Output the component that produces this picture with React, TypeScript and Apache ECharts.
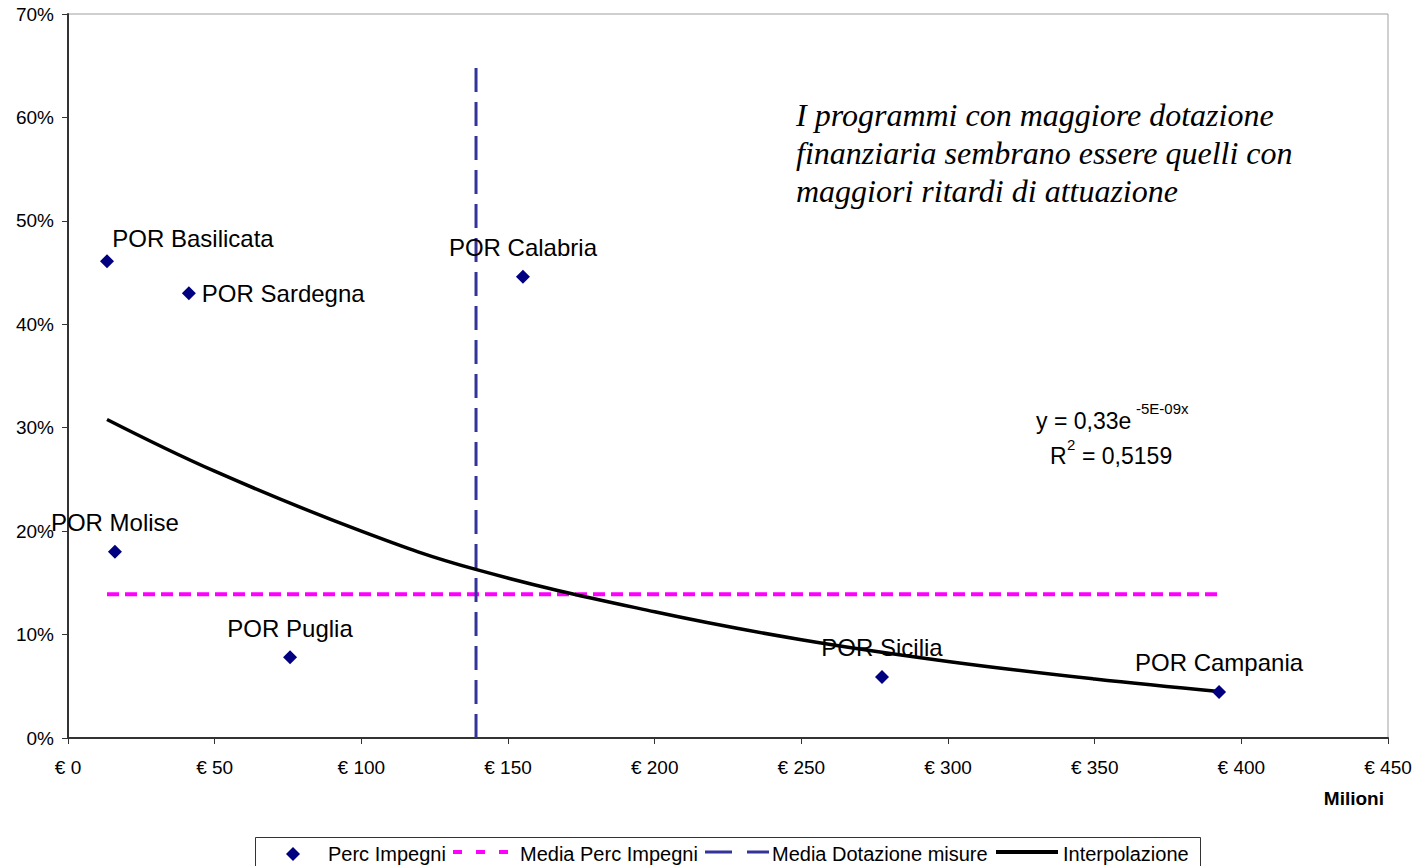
import React, { useEffect, useRef } from "react";
import * as echarts from "echarts";

const pointNames = ["POR Basilicata", "POR Sardegna", "POR Calabria", "POR Molise", "POR Puglia", "POR Sicilia", "POR Campania"];
const pointX = [13.3, 41.2, 155.1, 16.0, 75.7, 277.5, 392.4]; // milioni di euro
const pointY = [46.1, 43.0, 44.6, 18.0, 7.8, 5.9, 4.45]; // %

const mediaPercX = [13.3, 392.4];
const mediaPercY = 13.9;

const mediaDotX = 139.1;
const mediaDotY = [0, 65.3];

const trendX = [13.3, 50, 100, 139, 200, 250, 300, 350, 392.4];
const trendY = [30.8, 25.8, 20.0, 16.3, 12.2, 9.5, 7.4, 5.7, 4.5];

const xTicks = { min: 0, max: 450, interval: 50 };
const yTicks = { min: 0, max: 70, interval: 10 };

const legendNames = ["Perc Impegni", "Media Perc Impegni", "Media Dotazione misure", "Interpolazione"];

const labelLayouts: Record<string, any> = {
  "POR Basilicata": { position: "top", distance: 12, offset: [86, 8] },
  "POR Sardegna": { position: "right", distance: 6 },
  "POR Calabria": { position: "top", distance: 10 },
  "POR Molise": { position: "top", distance: 10 },
  "POR Puglia": { position: "top", distance: 10 },
  "POR Sicilia": { position: "top", distance: 10 },
  "POR Campania": { position: "top", distance: 10 },
};

export default function App() {
  const ref = useRef<HTMLDivElement>(null);
  useEffect(() => {
    if (!ref.current) return;
    const chart = echarts.init(ref.current, undefined, { renderer: "svg" });
    const font = "Arial, 'Liberation Sans', sans-serif";
    const lf = "20px Arial, 'Liberation Sans', sans-serif";
    const ly = 854;
    const legendGraphic: any = {
      type: "group",
      children: [
        { type: "rect", shape: { x: 255.5, y: 837.5, width: 945, height: 40 }, style: { fill: "#fff", stroke: "#333", lineWidth: 1 } },
        { type: "polygon", shape: { points: [[293, ly - 7], [300, ly], [293, ly + 7], [286, ly]] }, style: { fill: "#000080" } },
        { type: "text", x: 328, y: ly, style: { text: legendNames[0], font: lf, fill: "#000", textVerticalAlign: "middle" } },
        { type: "line", shape: { x1: 453, y1: ly - 2, x2: 508, y2: ly - 2 }, style: { stroke: "#ff00ff", lineWidth: 4, lineDash: [9, 14] } },
        { type: "text", x: 520, y: ly, style: { text: legendNames[1], font: lf, fill: "#000", textVerticalAlign: "middle" } },
        { type: "line", shape: { x1: 705, y1: ly - 2, x2: 769, y2: ly - 2 }, style: { stroke: "#333399", lineWidth: 3, lineDash: [27, 15] } },
        { type: "text", x: 772, y: ly, style: { text: legendNames[2], font: lf, fill: "#000", textVerticalAlign: "middle" } },
        { type: "line", shape: { x1: 996, y1: ly - 2, x2: 1058, y2: ly - 2 }, style: { stroke: "#000", lineWidth: 4 } },
        { type: "text", x: 1063, y: ly, style: { text: legendNames[3], font: lf, fill: "#000", textVerticalAlign: "middle" } },
      ],
    };
    const option: any = {
      animation: false,
      backgroundColor: "#ffffff",
      textStyle: { fontFamily: font },
      grid: {
        left: 68,
        right: 28,
        top: 14,
        bottom: 128,
        show: true,
        borderColor: "#a0a0a0",
        borderWidth: 1,
      },
      xAxis: {
        type: "value",
        min: xTicks.min,
        max: xTicks.max,
        interval: xTicks.interval,
        splitLine: { show: false },
        axisLine: { show: true, onZero: false, lineStyle: { color: "#333", width: 2 } },
        axisTick: { show: true, length: 6, lineStyle: { color: "#333" } },
        axisLabel: {
          margin: 20,
          fontSize: 19,
          color: "#000",
          fontFamily: font,
          formatter: (v: number) => "€ " + v,
        },
      },
      yAxis: {
        type: "value",
        min: yTicks.min,
        max: yTicks.max,
        interval: yTicks.interval,
        splitLine: { show: false },
        axisLine: { show: true, onZero: false, lineStyle: { color: "#333", width: 2 } },
        axisTick: { show: true, length: 6, lineStyle: { color: "#333" } },
        axisLabel: {
          margin: 14,
          fontSize: 19,
          color: "#000",
          fontFamily: font,
          formatter: "{value}%",
        },
      },
      legend: { show: false, data: legendNames },
      graphic: [
        {
          type: "text",
          left: 796,
          top: 96,
          style: {
            text: "I programmi con maggiore dotazione\nfinanziaria sembrano essere quelli con\nmaggiori ritardi di attuazione",
            font: "italic 32px 'Liberation Serif', 'Times New Roman', serif",
            lineHeight: 38,
            fill: "#000",
          },
        },
        {
          type: "text",
          x: 1036,
          y: 409,
          style: { text: "y = 0,33e", font: "23px Arial, 'Liberation Sans', sans-serif", fill: "#000" },
        },
        {
          type: "text",
          x: 1136,
          y: 401,
          style: { text: "-5E-09x", font: "15px Arial, 'Liberation Sans', sans-serif", fill: "#000" },
        },
        {
          type: "text",
          x: 1050,
          y: 444,
          style: { text: "R", font: "23px Arial, 'Liberation Sans', sans-serif", fill: "#000" },
        },
        {
          type: "text",
          x: 1067,
          y: 437,
          style: { text: "2", font: "15px Arial, 'Liberation Sans', sans-serif", fill: "#000" },
        },
        {
          type: "text",
          x: 1082,
          y: 444,
          style: { text: "= 0,5159", font: "23px Arial, 'Liberation Sans', sans-serif", fill: "#000" },
        },
        {
          type: "text",
          right: 32,
          top: 789,
          style: { text: "Milioni", font: "bold 19px Arial, 'Liberation Sans', sans-serif", fill: "#000" },
        },
        legendGraphic,
      ],
      series: [
        {
          name: "Perc Impegni",
          type: "scatter",
          symbol: "diamond",
          symbolSize: 14,
          itemStyle: { color: "#000080", opacity: 1 },
          z: 5,
          data: pointNames.map((n, i) => ({
            name: n,
            value: [pointX[i], pointY[i]],
            label: {
              show: true,
              formatter: n,
              fontSize: 24,
              color: "#000",
              fontFamily: font,
              ...labelLayouts[n],
            },
          })),
        },
        {
          name: "Media Perc Impegni",
          type: "line",
          symbol: "none",
          lineStyle: { color: "#ff00ff", width: 4, type: [12, 6] },
          itemStyle: { color: "#ff00ff" },
          data: mediaPercX.map((x) => [x, mediaPercY]),
        },
        {
          name: "Media Dotazione misure",
          type: "line",
          symbol: "none",
          lineStyle: { color: "#333399", width: 3, type: [24, 10] },
          itemStyle: { color: "#333399" },
          data: mediaDotY.map((y) => [mediaDotX, y]),
        },
        {
          name: "Interpolazione",
          type: "line",
          symbol: "none",
          smooth: 0.4,
          lineStyle: { color: "#000", width: 3.5 },
          itemStyle: { color: "#000" },
          data: trendX.map((x, i) => [x, trendY[i]]),
        },
      ],
    };
    chart.setOption(option);
    return () => chart.dispose();
  }, []);
  return (
    <div
      ref={ref}
      style={{ position: "absolute", left: 0, top: 0, width: 1416, height: 866 }}
    />
  );
}
